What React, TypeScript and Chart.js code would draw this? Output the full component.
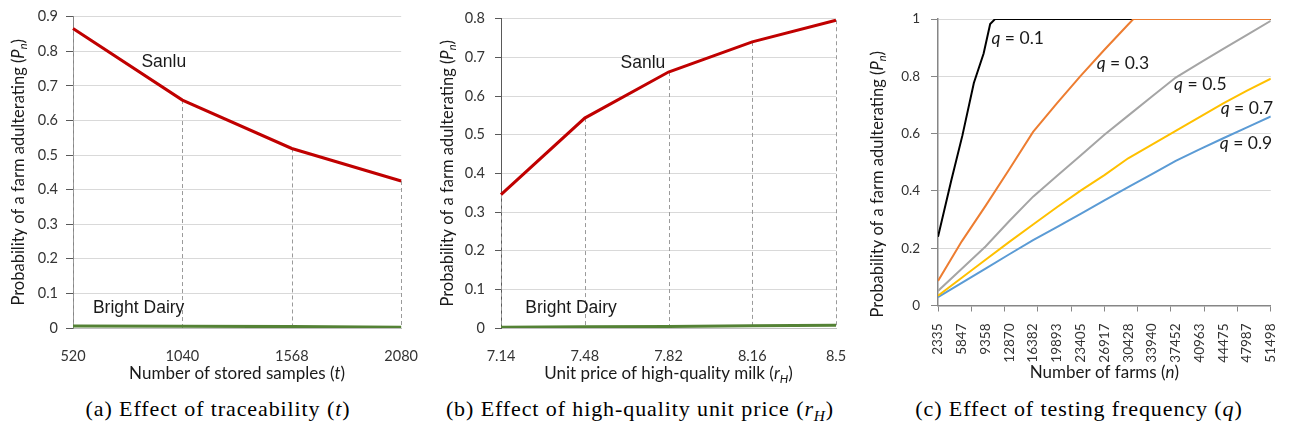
import React, { useEffect, useRef } from 'react';
import { Chart, registerables } from 'chart.js';

Chart.register(...registerables);

// ---------- data: panel (a) ----------
const storedSamples = ['520', '1040', '1568', '2080'];
const sanluByStored = [0.866, 0.659, 0.519, 0.425];
const brightByStored = [0.006, 0.005, 0.004, 0.002];
const yTicksA = [0, 0.1, 0.2, 0.3, 0.4, 0.5, 0.6, 0.7, 0.8, 0.9];

// ---------- data: panel (b) ----------
const priceHigh = ['7.14', '7.48', '7.82', '8.16', '8.5'];
const sanluByPrice = [0.345, 0.543, 0.662, 0.74, 0.796];
const brightByPrice = [0.002, 0.003, 0.004, 0.006, 0.007];
const yTicksB = [0, 0.1, 0.2, 0.3, 0.4, 0.5, 0.6, 0.7, 0.8];

// ---------- data: panel (c) ----------
const farmTicks = [2335, 5847, 9358, 12870, 16382, 19893, 23405, 26917, 30428, 33940, 37452, 40963, 44475, 47987, 51498];
const q01Farms = [2335, 4269, 5943, 7631, 9074, 10041, 10762, 51498];
const q01Prob = [0.24, 0.434, 0.594, 0.777, 0.88, 0.983, 1.0, 1.0];
const q03Farms = [2335, 5847, 9358, 12870, 16382, 19893, 23405, 26917, 30428, 31195, 51498];
const q03Prob = [0.086, 0.224, 0.348, 0.476, 0.606, 0.706, 0.802, 0.893, 0.981, 1.0, 1.0];
const q05Prob = [0.051, 0.128, 0.206, 0.295, 0.38, 0.452, 0.524, 0.596, 0.663, 0.73, 0.796, 0.846, 0.896, 0.945, 0.994];
const q07Prob = [0.034, 0.097, 0.16, 0.222, 0.283, 0.343, 0.401, 0.455, 0.514, 0.562, 0.61, 0.658, 0.706, 0.75, 0.792];
const q09Prob = [0.029, 0.079, 0.129, 0.179, 0.228, 0.274, 0.32, 0.367, 0.413, 0.459, 0.505, 0.545, 0.584, 0.622, 0.66];
const yTicksC = [0, 0.2, 0.4, 0.6, 0.8, 1];

// ---------- styles ----------
const RED = '#C00000';
const GREEN = '#548235';
const GRID = '#d9d9d9';
const AXIS = '#868686';
const TICK_TXT = '#333333';
const TITLE_TXT = '#1a1a1a';
const CAL = 'Lato';
const ARIAL = '"Liberation Sans"';

type Part = { t: string; i?: boolean; s?: boolean };
type RichItem = {
  parts: Part[];
  family: string;
  size: number;
  mode: 'xTitle' | 'yTitle' | 'data';
  at?: number;
  shift?: number;
  xv?: number;
  yv?: number;
  align?: 'left' | 'center';
};

function partFont(p: Part, size: number, family: string) {
  const sz = p.s ? Math.round(size * 0.68) : size;
  return `${p.i ? 'italic ' : ''}${sz}px ${family}`;
}

function drawParts(ctx: CanvasRenderingContext2D, it: RichItem, x: number, y: number, align: 'left' | 'center') {
  let total = 0;
  const ws = it.parts.map((p) => {
    ctx.font = partFont(p, it.size, it.family);
    const w = ctx.measureText(p.t).width;
    total += w;
    return w;
  });
  let cx = align === 'center' ? x - total / 2 : x;
  ctx.fillStyle = TITLE_TXT;
  ctx.textBaseline = 'middle';
  ctx.textAlign = 'left';
  it.parts.forEach((p, k) => {
    ctx.font = partFont(p, it.size, it.family);
    ctx.fillText(p.t, cx, p.s ? y + it.size * 0.3 : y);
    cx += ws[k];
  });
}

function makeRichText(items: RichItem[]) {
  return {
    id: 'richText',
    afterDraw(chart: any) {
      const { ctx, chartArea } = chart;
      ctx.save();
      for (const it of items) {
        if (it.mode === 'xTitle') {
          drawParts(ctx, it, (chartArea.left + chartArea.right) / 2, it.at as number, 'center');
        } else if (it.mode === 'yTitle') {
          ctx.save();
          ctx.translate(it.at as number, (chartArea.top + chartArea.bottom) / 2 + (it.shift || 0));
          ctx.rotate(-Math.PI / 2);
          drawParts(ctx, it, 0, 0, 'center');
          ctx.restore();
        } else {
          const x = chart.scales.x.getPixelForValue(it.xv);
          const y = chart.scales.y.getPixelForValue(it.yv);
          drawParts(ctx, it, x, y, it.align || 'center');
        }
      }
      ctx.restore();
    },
  };
}

function makeDropLines(datasetIndex: number) {
  return {
    id: 'dropLines',
    beforeDatasetsDraw(chart: any) {
      const { ctx } = chart;
      const meta = chart.getDatasetMeta(datasetIndex);
      const y0 = chart.scales.y.getPixelForValue(0);
      ctx.save();
      ctx.strokeStyle = '#9a9a9a';
      ctx.lineWidth = 1;
      ctx.setLineDash([4, 3]);
      for (const pt of meta.data) {
        ctx.beginPath();
        ctx.moveTo(Math.round(pt.x) + 0.5, pt.y);
        ctx.lineTo(Math.round(pt.x) + 0.5, y0);
        ctx.stroke();
      }
      ctx.restore();
    },
  };
}

const yTitleParts: Part[] = [
  { t: 'Probability of a farm adulterating (' },
  { t: 'P', i: true },
  { t: 'n', i: true, s: true },
  { t: ')' },
];

function setTicks(values: number[]) {
  return (scale: any) => {
    scale.ticks = values.map((v) => ({ value: v }));
  };
}

const plainLabel = (v: any) => String(v);

function configA(): any {
  return {
    type: 'line',
    data: {
      labels: storedSamples,
      datasets: [
        { label: 'Sanlu', data: sanluByStored, borderColor: RED, borderWidth: 3, pointRadius: 0, order: 1 },
        { label: 'Bright Dairy', data: brightByStored, borderColor: GREEN, borderWidth: 3, pointRadius: 0, order: 2 },
      ],
    },
    options: {
      animation: false,
      responsive: false,
      layout: { padding: { left: 0, right: 28, top: 14, bottom: 0 } },
      plugins: { legend: { display: false }, tooltip: { enabled: false } },
      scales: {
        x: {
          type: 'category',
          offset: false,
          grid: { display: false },
          border: { display: true, color: '#bfbfbf' },
          ticks: { font: { family: CAL, size: 14.5 }, color: TICK_TXT, padding: 12, maxRotation: 0 },
          afterFit: (s: any) => { s.height = 62; },
        },
        y: {
          min: 0,
          max: 0.9,
          afterBuildTicks: setTicks(yTicksA),
          grid: { color: GRID, tickColor: '#595959', tickLength: 7 },
          border: { color: AXIS },
          ticks: { font: { family: CAL, size: 14.5 }, color: TICK_TXT, padding: 8, callback: plainLabel },
          afterFit: (s: any) => { s.width = 73; },
        },
      },
    },
    plugins: [
      makeDropLines(0),
      makeRichText([
        { mode: 'yTitle', at: 18.5, parts: yTitleParts, family: CAL, size: 16.5 },
        { mode: 'xTitle', at: 374, parts: [{ t: 'Number of stored samples (' }, { t: 't', i: true }, { t: ')' }], family: CAL, size: 17 },
        { mode: 'data', xv: 0.83, yv: 0.769, parts: [{ t: 'Sanlu' }], family: ARIAL, size: 17.5 },
        { mode: 'data', xv: 0.6, yv: 0.058, parts: [{ t: 'Bright Dairy' }], family: ARIAL, size: 17.5 },
      ]),
    ],
  };
}

function configB(): any {
  return {
    type: 'line',
    data: {
      labels: priceHigh,
      datasets: [
        { label: 'Sanlu', data: sanluByPrice, borderColor: RED, borderWidth: 3, pointRadius: 0, order: 1 },
        { label: 'Bright Dairy', data: brightByPrice, borderColor: GREEN, borderWidth: 3, pointRadius: 0, order: 2 },
      ],
    },
    options: {
      animation: false,
      responsive: false,
      layout: { padding: { left: 0, right: 24, top: 14, bottom: 0 } },
      plugins: { legend: { display: false }, tooltip: { enabled: false } },
      scales: {
        x: {
          type: 'category',
          offset: false,
          grid: { display: false },
          border: { display: true, color: '#bfbfbf' },
          ticks: { font: { family: CAL, size: 14.5 }, color: TICK_TXT, padding: 12, maxRotation: 0 },
          afterFit: (s: any) => { s.height = 62; },
        },
        y: {
          min: 0,
          max: 0.8,
          afterBuildTicks: setTicks(yTicksB),
          grid: { color: GRID, tickColor: '#595959', tickLength: 6 },
          border: { color: '#595959' },
          ticks: { font: { family: CAL, size: 14.5 }, color: TICK_TXT, padding: 10, callback: plainLabel },
          afterFit: (s: any) => { s.width = 71; },
        },
      },
    },
    plugins: [
      makeDropLines(0),
      makeRichText([
        { mode: 'yTitle', at: 18, parts: yTitleParts, family: CAL, size: 16.5 },
        { mode: 'xTitle', at: 374, parts: [{ t: 'Unit price of high-quality milk (' }, { t: 'r', i: true }, { t: 'H', i: true, s: true }, { t: ')' }], family: CAL, size: 17 },
        { mode: 'data', xv: 1.695, yv: 0.684, parts: [{ t: 'Sanlu' }], family: ARIAL, size: 17.5 },
        { mode: 'data', xv: 0.836, yv: 0.052, parts: [{ t: 'Bright Dairy' }], family: ARIAL, size: 17.5 },
      ]),
    ],
  };
}

function pairs(xs: number[], ys: number[]) {
  return ys.map((y, k) => ({ x: xs[k], y }));
}

function configC(): any {
  const line = (label: string, data: any[], color: string, order: number) => ({
    label, data, borderColor: color, borderWidth: 2, pointRadius: 0, order,
  });
  const fmin = farmTicks[0];
  const fmax = farmTicks[farmTicks.length - 1];
  return {
    type: 'line',
    data: {
      datasets: [
        line('q = 0.1', pairs(q01Farms, q01Prob), '#000000', 2),
        line('q = 0.3', pairs(q03Farms, q03Prob), '#ED7D31', 1),
        line('q = 0.5', pairs(farmTicks, q05Prob), '#A5A5A5', 3),
        line('q = 0.7', pairs(farmTicks, q07Prob), '#FFC000', 4),
        line('q = 0.9', pairs(farmTicks, q09Prob), '#5B9BD5', 5),
      ],
    },
    options: {
      animation: false,
      responsive: false,
      layout: { padding: { left: 0, right: 12, top: 13, bottom: 0 } },
      plugins: { legend: { display: false }, tooltip: { enabled: false } },
      scales: {
        x2: {
          type: 'linear',
          position: 'bottom',
          weight: 0,
          min: fmin,
          max: fmax,
          afterBuildTicks: (s: any) => {
            s.ticks = Array.from({ length: 11 }, (_, i) => ({ value: fmin + (i * (fmax - fmin)) / 10 }));
          },
          ticks: { display: false },
          grid: { drawOnChartArea: false, drawTicks: true, tickLength: 6, tickColor: AXIS, color: AXIS },
          border: { display: true, color: AXIS, width: 1.5 },
          afterFit: (s: any) => { s.height = 6; },
        },
        x: {
          type: 'linear',
          position: 'bottom',
          weight: 1,
          min: fmin,
          max: fmax,
          afterBuildTicks: setTicks(farmTicks),
          grid: { display: false },
          border: { display: false },
          ticks: {
            autoSkip: false,
            maxRotation: 90,
            minRotation: 90,
            padding: 4,
            font: { family: CAL, size: 13.5 },
            color: TICK_TXT,
            callback: plainLabel,
          },
          afterFit: (s: any) => { s.height = 78.5; },
        },
        y: {
          min: 0,
          max: 1,
          afterBuildTicks: setTicks(yTicksC),
          grid: { color: GRID, tickColor: AXIS, tickLength: 7 },
          border: { color: AXIS, width: 1.5 },
          ticks: { font: { family: CAL, size: 13.5 }, color: TICK_TXT, padding: 11, callback: plainLabel },
          afterFit: (s: any) => { s.width = 78; },
        },
      },
    },
    plugins: [
      makeRichText([
        { mode: 'yTitle', at: 18, shift: 22, parts: yTitleParts, family: CAL, size: 16.5 },
        { mode: 'xTitle', at: 373, parts: [{ t: 'Number of farms (' }, { t: 'n', i: true }, { t: ')' }], family: CAL, size: 17 },
        { mode: 'data', xv: 10228, yv: 0.933, align: 'left', parts: [{ t: 'q', i: true }, { t: ' = 0.1' }], family: CAL, size: 17.5 },
        { mode: 'data', xv: 25769, yv: 0.847, align: 'left', parts: [{ t: 'q', i: true }, { t: ' = 0.3' }], family: CAL, size: 17.5 },
        { mode: 'data', xv: 37212, yv: 0.772, align: 'left', parts: [{ t: 'q', i: true }, { t: ' = 0.5' }], family: CAL, size: 17.5 },
        { mode: 'data', xv: 44095, yv: 0.69, align: 'left', parts: [{ t: 'q', i: true }, { t: ' = 0.7' }], family: CAL, size: 17.5 },
        { mode: 'data', xv: 43951, yv: 0.567, align: 'left', parts: [{ t: 'q', i: true }, { t: ' = 0.9' }], family: CAL, size: 17.5 },
      ]),
    ],
  };
}

function ChartBox({ left, width, height, make }: { left: number; width: number; height: number; make: () => any }) {
  const ref = useRef<HTMLCanvasElement>(null);
  useEffect(() => {
    const chart = new Chart(ref.current as HTMLCanvasElement, make());
    return () => chart.destroy();
  }, []);
  return (
    <canvas
      ref={ref}
      width={width}
      height={height}
      style={{ position: 'absolute', left, top: 0, width, height }}
    />
  );
}

const captionStyle: React.CSSProperties = {
  position: 'absolute',
  top: 397,
  textAlign: 'center',
  font: '22px "Liberation Serif", serif',
  letterSpacing: '0.9px',
  lineHeight: '24px',
  color: '#000',
  whiteSpace: 'nowrap',
};

export default function App() {
  return (
    <div style={{ position: 'absolute', left: 0, top: 0, width: 1291, height: 432, background: '#fff', overflow: 'hidden' }}>
      <ChartBox left={0} width={430} height={390} make={configA} />
      <ChartBox left={430} width={430} height={390} make={configB} />
      <ChartBox left={860} width={431} height={390} make={configC} />
      <div style={{ ...captionStyle, left: 0, width: 436 }}>
        (a) Effect of traceability (<i>t</i>)
      </div>
      <div style={{ ...captionStyle, left: 440, width: 400 }}>
        (b) Effect of high-quality unit price (<i>r</i><sub style={{ fontSize: '70%', fontStyle: 'italic', lineHeight: 0 }}>H</sub>)
      </div>
      <div style={{ ...captionStyle, left: 879, width: 400 }}>
        (c) Effect of testing frequency (<i>q</i>)
      </div>
    </div>
  );
}
